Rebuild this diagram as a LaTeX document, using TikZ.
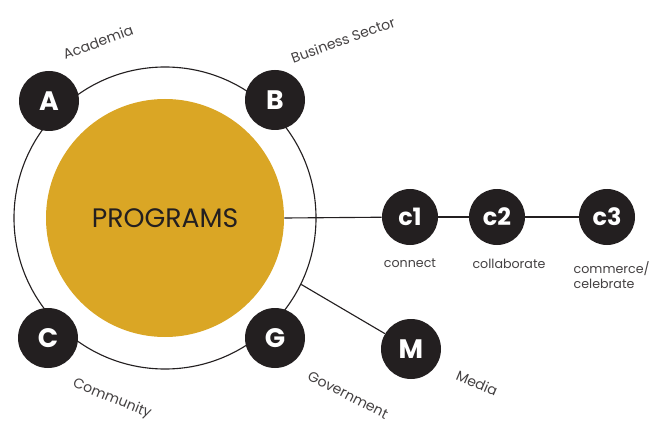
\documentclass[tikz,border=0pt]{standalone}
\usepackage{fontspec}
\setmainfont{Poppins}
\usepackage{xcolor}
\usepackage{tikz}
\usetikzlibrary{positioning}

\definecolor{gold}{RGB}{218,166,37}
\definecolor{ink}{RGB}{35,31,32}

\begin{document}
\begin{tikzpicture}[
  node distance=0.3cm,
  hub/.style={circle, fill=gold, minimum size=5.95cm, inner sep=0pt, text=ink, font=\fontsize{19}{21}\selectfont},
  ring/.style={circle, draw=ink, line width=0.8pt, minimum size=7.55cm, inner sep=0pt},
  partner/.style={circle, fill=ink, text=white, minimum size=1.5cm, inner sep=0pt, font=\fontsize{19}{20}\selectfont\bfseries},
  phase/.style={circle, fill=ink, text=white, minimum size=1.4cm, inner sep=0pt, font=\fontsize{17}{18}\selectfont\bfseries},
  lbl/.style={text=ink!85, font=\fontsize{9}{11}\selectfont, inner sep=1pt},
  tag/.style={lbl, font=\fontsize{10}{12}\selectfont},
  link/.style={draw=ink, line width=0.8pt}
]
\useasboundingbox (0,0) rectangle (16.225,10.675);

% Centre: programs and the partner ring
\node[ring] (ring) at (4.125,5.225) {};
\node[hub] (programs) at (4.125,5.225) {PROGRAMS};

% Partners on the ring
\node[partner] (A) at (1.225,8.15) {A};
\node[partner] (B) at (6.875,8.175) {B};
\node[partner] (C) at (1.2,2.225) {C};
\node[partner] (G) at (6.875,2.225) {G};
\node[partner] (M) at (10.275,1.95) {M};

% Phases
\node[phase] (c1) at (10.25,5.25) {c1};
\node[phase] (c2) at (12.425,5.25) {c2};
\node[phase] (c3) at (15.175,5.25) {c3};

% Labels
\node[tag, rotate=20] (academia) at (2.45,9.625) {Academia};
\node[tag, rotate=20] (business) at (8.575,9.675) {Business Sector};
\node[tag, rotate=-22] (community) at (2.8,0.7) {Community};
\node[tag, rotate=-27] (government) at (8.7,0.8) {Government};
\node[tag, rotate=-23] (media) at (11.925,1.1) {Media};
\node[lbl, below=of c1] (connect) {connect};
\node[lbl, below=of c2, xshift=0.3cm] (collaborate) {collaborate};
\node[lbl, anchor=west, align=left] (commerce) at (14.3,3.8) {commerce/\\celebrate};

% Connectors
\draw[link] (programs.east) -- (c1);
\draw[link] (c1) -- (c2);
\draw[link] (c2) -- (c3);
\draw[link] (ring.-26) -- (M);
\end{tikzpicture}
\end{document}
